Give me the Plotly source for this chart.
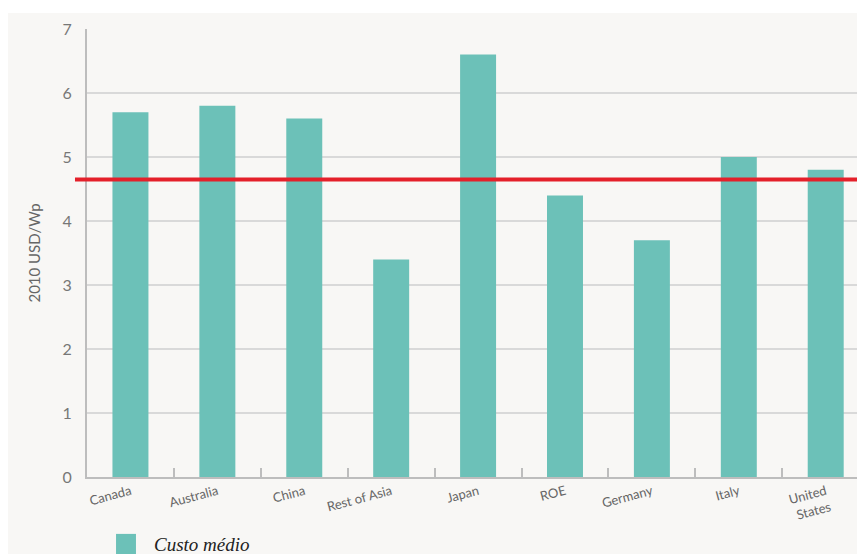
import plotly.graph_objects as go

categories = ["Canada", "Australia", "China", "Rest of Asia", "Japan", "ROE", "Germany", "Italy", "United<br>States"]
costs = [5.7, 5.8, 5.6, 3.4, 6.6, 4.4, 3.7, 5.0, 4.8]
average_cost = 4.65
y_ticks = [0, 1, 2, 3, 4, 5, 6, 7]

teal = "#6cc1b8"
red = "#e4202a"
panel = "#f8f7f5"

fig = go.Figure()
fig.add_trace(go.Bar(
    x=categories, y=costs, marker=dict(color=teal, line=dict(width=0)),
    name="Custo médio", showlegend=False,
))

fig.update_layout(
    width=857, height=554,
    margin=dict(l=87, r=0, t=29, b=77),
    paper_bgcolor="white",
    plot_bgcolor="rgba(0,0,0,0)",
    bargap=0.586,
    font=dict(family="Lato, DejaVu Sans, sans-serif", color="#666"),
    xaxis=dict(
        type="category", range=[-0.5, 8.36],
        showgrid=False, showline=True, linecolor="#bdbdbd", linewidth=2,
        ticks="inside", tickson="boundaries", ticklen=9, tickwidth=2, tickcolor="#bdbdbd",
        tickangle=-15, tickfont=dict(size=13, color="#666"),
    ),
    yaxis=dict(
        range=[0, 7], tickvals=y_ticks, showgrid=True, gridcolor="#d9d9d9", gridwidth=2,
        showline=True, linecolor="#bdbdbd", linewidth=2, zeroline=False,
        ticks="outside", ticklen=10, tickcolor="rgba(0,0,0,0)",
        tickfont=dict(size=16, color="#777"),
        title=dict(text="2010 USD/Wp", font=dict(size=15, color="#666"), standoff=18),
    ),
    shapes=[
        dict(type="rect", xref="paper", yref="paper", x0=-0.1026, x1=1.2, y0=-0.2, y1=1.0357,
             fillcolor=panel, line=dict(width=0), layer="below"),
        dict(type="line", xref="paper", yref="y", x0=-0.0156, x1=1.0, y0=average_cost, y1=average_cost,
             line=dict(color=red, width=4), layer="above"),
        dict(type="rect", xref="paper", yref="paper", x0=0.0377, x1=0.0636, y0=-0.172, y1=-0.127,
             fillcolor=teal, line=dict(width=0)),
    ],
    annotations=[
        dict(text="<i>Custo médio</i>", xref="paper", yref="paper", x=0.084, y=-0.150,
             xanchor="left", yanchor="middle", showarrow=False,
             font=dict(family="Liberation Serif, DejaVu Serif, serif", size=19, color="#222")),
    ],
)

fig.write_html("out.html")
